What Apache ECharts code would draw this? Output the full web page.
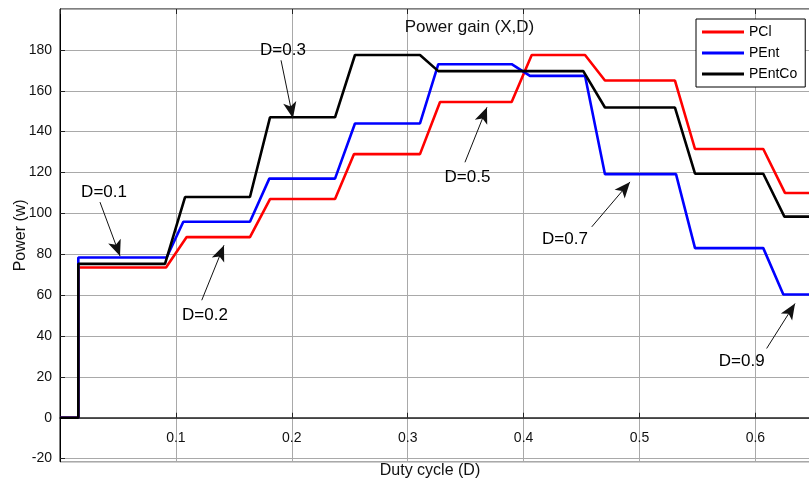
<!DOCTYPE html>
<html><head><meta charset="utf-8">
<script src="https://cdn.jsdelivr.net/npm/echarts@6/dist/echarts.min.js"></script>
<style>html,body{margin:0;padding:0;background:#fff}#c{width:809px;height:482px}</style>
</head><body><div id="c"></div>
<script>
// ---- data (duty cycle D, power W) ----
const seriesNames = ['PCl', 'PEnt', 'PEntCo'];
const pclX = [0, 0.0158, 0.0158, 0.0915, 0.1093, 0.1639, 0.1812, 0.2373, 0.2537, 0.3106, 0.3279, 0.3897, 0.4070, 0.4530, 0.4702, 0.5306, 0.5479, 0.6068, 0.6255, 0.70];
const pclY = [0, 0, 73.5, 73.5, 88.4, 88.4, 107, 107, 129, 129, 154.5, 154.5, 177.5, 177.5, 165, 165, 131.5, 131.5, 110, 110];
const pentX = [0, 0.0158, 0.0158, 0.0920, 0.1064, 0.1639, 0.1806, 0.2373, 0.2545, 0.3106, 0.3264, 0.3897, 0.4055, 0.4530, 0.4702, 0.5315, 0.5479, 0.6068, 0.6241, 0.70];
const pentY = [0, 0, 78.4, 78.4, 95.9, 95.9, 117, 117, 144, 144, 173, 173, 167.3, 167.3, 119.2, 119.2, 83, 83, 60.3, 60.3];
const pentcoX = [0, 0.0158, 0.0158, 0.0906, 0.1079, 0.1639, 0.1812, 0.2373, 0.2545, 0.3106, 0.3264, 0.4515, 0.4702, 0.5306, 0.5479, 0.6068, 0.6250, 0.70];
const pentcoY = [0, 0, 75.3, 75.3, 108, 108, 147, 147, 177.5, 177.5, 169.6, 169.6, 151.8, 151.8, 119.4, 119.4, 98.4, 98.4];

// annotations (in data units)
const annoText = ['D=0.1', 'D=0.2', 'D=0.3', 'D=0.5', 'D=0.7', 'D=0.9'];
const annoTextX = [0.038, 0.1251, 0.1924, 0.3516, 0.4357, 0.5882];
const annoTextY = [110.4, 50.2, 179.8, 117.8, 87.1, 27.4];
const arrowFromX = [0.0345, 0.1223, 0.1907, 0.3494, 0.4588, 0.6097];
const arrowFromY = [105.5, 57.5, 174.9, 125.0, 93.4, 33.9];
const arrowToX = [0.0518, 0.1415, 0.2010, 0.3684, 0.4918, 0.6342];
const arrowToY = [79.1, 84.4, 146.6, 151.9, 115.4, 55.9];

const titleText = 'Power gain (X,D)';
const xName = 'Duty cycle (D)';
const yName = 'Power (w)';

// ---- build ----
const FONT = '"Liberation Sans", Arial, Helvetica, sans-serif';
const zip = (xs, ys) => xs.map((x, i) => [x, ys[i]]);
const colors = ['#ff0000', '#0000ff', '#000000'];
const allData = [zip(pclX, pclY), zip(pentX, pentY), zip(pentcoX, pentcoY)];

const chart = echarts.init(document.getElementById('c'), null, {renderer: 'canvas'});
const lineSeries = seriesNames.map((n, i) => ({
  name: n, type: 'line', data: allData[i], showSymbol: false, symbol: 'none',
  lineStyle: {color: colors[i], width: 2.6}, itemStyle: {color: colors[i]},
  z: 2 + i, animation: false
}));

const annoSeries = {
  name: '__anno', type: 'line', data: [], z: 10, animation: false,
  markLine: {
    silent: true, animation: false, symbol: ['none', 'arrow'], symbolSize: [10, 16],
    lineStyle: {color: '#111', width: 1, type: 'solid'},
    itemStyle: {color: '#000'},
    label: {show: false},
    data: arrowFromX.map((x, i) => [{coord: [x, arrowFromY[i]]}, {coord: [arrowToX[i], arrowToY[i]]}])
  },
  markPoint: {
    silent: true, animation: false, symbol: 'circle', symbolSize: 1,
    itemStyle: {color: 'rgba(0,0,0,0)'},
    label: {show: true, position: 'inside', formatter: '{b}', color: '#000', fontSize: 17, fontFamily: FONT},
    data: annoText.map((t, i) => ({name: t, coord: [annoTextX[i], annoTextY[i]]}))
  }
};

const option = {
  animation: false,
  backgroundColor: '#ffffff',
  textStyle: {fontFamily: FONT},
  grid: {left: 60, top: 9, width: 811.3, height: 452.7, show: true, borderColor: '#000', borderWidth: 1,
    containLabel: false, outerBoundsMode: 'none'},
  legend: {
    data: seriesNames, orient: 'vertical', left: 696, top: 19,
    padding: [6, 8, 6, 6], itemGap: 7, itemWidth: 42, itemHeight: 3, icon: 'rect',
    borderColor: '#000', borderWidth: 1, backgroundColor: '#fff',
    textStyle: {fontSize: 14, color: '#000', fontFamily: FONT}
  },
  xAxis: [{
    type: 'value', min: 0, max: 0.7, interval: 0.1,
    axisLine: {show: true, onZero: true, lineStyle: {color: '#222', width: 1.5}},
    axisTick: {show: true, inside: true, length: 5, lineStyle: {color: '#222'}},
    axisLabel: {margin: -31, color: '#111', fontSize: 14, fontFamily: FONT, showMinLabel: false,
      formatter: v => (Math.round(v * 10) / 10).toString()},
    splitLine: {show: true, lineStyle: {color: '#a9a9a9', width: 1}}
  }, {
    type: 'value', position: 'top', min: 0, max: 0.7, interval: 0.1,
    axisLine: {show: false, onZero: false},
    axisTick: {show: true, inside: true, length: 5, lineStyle: {color: '#222'}},
    axisLabel: {show: false}, splitLine: {show: false}
  }],
  yAxis: {
    type: 'value', min: -21.5, max: 200, splitNumber: 11, minInterval: 20, maxInterval: 20,
    axisLine: {show: true, onZero: false, lineStyle: {color: '#000'}},
    axisTick: {show: true, inside: true, length: 5, lineStyle: {color: '#222'}},
    axisLabel: {showMinLabel: false, showMaxLabel: false, fontSize: 14, color: '#111', margin: 8, fontFamily: FONT},
    splitLine: {show: true, lineStyle: {color: '#a9a9a9', width: 1}},
    name: yName, nameLocation: 'middle', nameRotate: 90, nameGap: 31, nameMoveOverlap: false,
    nameTextStyle: {fontSize: 16, color: '#111', fontFamily: FONT}
  },
  graphic: [
    {type: 'text', x: 469.5, y: 27.5, z: 20, style: {text: titleText, font: '17px ' + FONT, fill: '#111', textAlign: 'center', textVerticalAlign: 'middle'}},
    {type: 'text', x: 430, y: 471, z: 20, style: {text: xName, font: '16px ' + FONT, fill: '#111', textAlign: 'center', textVerticalAlign: 'middle'}}
  ],
  series: [...lineSeries, annoSeries]
};
chart.setOption(option);
</script>
</body></html>
